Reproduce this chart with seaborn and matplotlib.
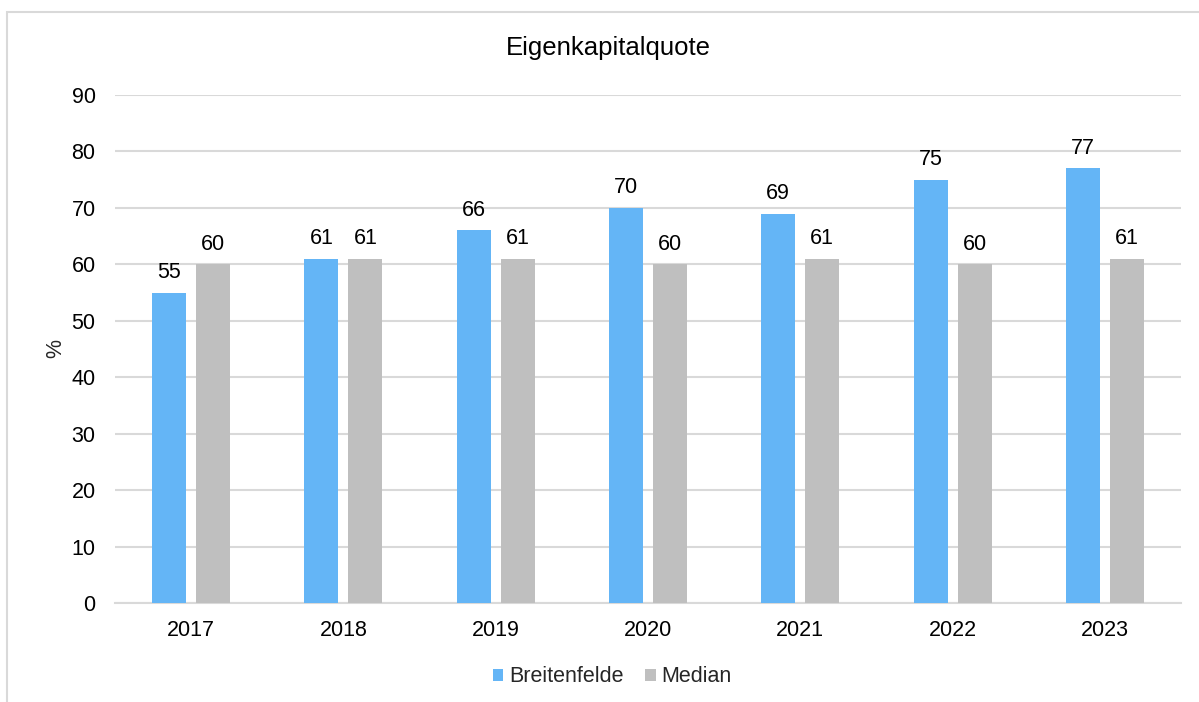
import pandas as pd
import matplotlib
matplotlib.use("Agg")
import matplotlib.pyplot as plt
import matplotlib.patches as mpatches
import seaborn as sns

# Daten
jahre = ["2017", "2018", "2019", "2020", "2021", "2022", "2023"]
breitenfelde = [55, 61, 66, 70, 69, 75, 77]
median = [60, 61, 61, 60, 61, 60, 61]
reihen = ["Breitenfelde", "Median"]
farben = ["#64B5F6", "#BFBFBF"]
y_ticks = [0, 10, 20, 30, 40, 50, 60, 70, 80, 90]

df = pd.DataFrame({
    "Jahr": jahre * 2,
    "Wert": breitenfelde + median,
    "Reihe": [reihen[0]] * len(jahre) + [reihen[1]] * len(jahre),
})

sns.set_style("white")
plt.rcParams["font.family"] = ["Liberation Sans", "DejaVu Sans"]

fig = plt.figure(figsize=(11.99, 7.02), dpi=100)
ax = fig.add_axes([115 / 1199, 1 - 603 / 702, (1181 - 115) / 1199, (603 - 95) / 702])

sns.barplot(data=df, x="Jahr", y="Wert", hue="Reihe", palette=farben,
            width=0.578, gap=0.227, saturation=1, linewidth=0,
            ax=ax, zorder=3)

for cont in ax.containers:
    ax.bar_label(cont, fmt="%.0f", padding=7, fontsize=15.5, color="#000000")

ax.set_ylim(0, 90)
ax.set_yticks(y_ticks)
ax.yaxis.grid(True, color="#D9D9D9", linewidth=1.5, zorder=0)
ax.set_axisbelow(True)
for s in ["top", "right", "left"]:
    ax.spines[s].set_visible(False)
ax.spines["bottom"].set_color("#D9D9D9")
ax.spines["bottom"].set_linewidth(1.5)
ax.tick_params(axis="both", length=0, labelsize=15.5, colors="#000000")
ax.tick_params(axis="x", pad=12)
ax.tick_params(axis="y", pad=14)
ax.set_xlabel("")
ax.set_ylabel("%", fontsize=15.5, labelpad=4)

fig.text(608 / 1199, 1 - 48 / 702, "Eigenkapitalquote", fontsize=18.5,
         ha="center", va="center", color="#000000")

# Legende unten, leicht links der Achsenmitte wie im Original
ax.legend(title=None, loc="center",
          bbox_to_anchor=(612 / 1199, 1 - 677 / 702), bbox_transform=fig.transFigure,
          ncol=2, frameon=False, fontsize=15.5, handlelength=0.5, handleheight=0.5,
          handletextpad=0.25, columnspacing=1.0)

# Rahmen des Diagrammbereichs
fig.add_artist(mpatches.Rectangle((7 / 1199, -0.1), 1.2, (702 - 12) / 702 + 0.1,
                                  transform=fig.transFigure, fill=False,
                                  edgecolor="#D9D9D9", linewidth=1.5))

fig.savefig("out.png", dpi=100)
